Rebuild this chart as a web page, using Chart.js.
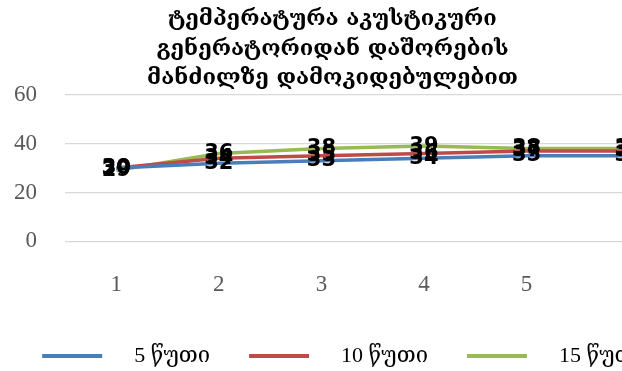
<!DOCTYPE html>
<html>
<head>
<meta charset="utf-8">
<script src="https://cdn.jsdelivr.net/npm/chart.js@4"></script>
<style>
  html, body { margin: 0; padding: 0; background: #fff; overflow: hidden; }
  #wrap { width: 665px; height: 371px; }
</style>
</head>
<body>
<div id="wrap"><canvas id="tempChart" width="665" height="371"></canvas></div>
<script>
// Distance categories along x axis
const categories = ["1", "2", "3", "4", "5", "6"];

// Series values (temperature)
const series5min = [30, 32, 33, 34, 35, 35];
const series10min = [30, 34, 35, 36, 37, 37];
const series15min = [29, 36, 38, 39, 38, 38];

const seriesNames = ["5 წუთი", "10 წუთი", "15 წუთი"];
const yTicks = [0, 20, 40, 60];

const titleLines = [
    "ტემპერატურა აკუსტიკური",
    "გენერატორიდან დაშორების",
    "მანძილზე დამოკიდებულებით"
];

// Legend marker: a short line with empty space around it
function makeMarker(color) {
    const c = document.createElement("canvas");
    c.width = 104;
    c.height = 4;
    const g = c.getContext("2d");
    g.fillStyle = color;
    g.fillRect(23, 0, 60, 4);
    return c;
}

function toPoints(values) {
    return values.map((v, i) => ({ x: i + 1, y: v }));
}

// Draw the value of every point on top of the lines
const valueLabels = {
    id: "valueLabels",
    afterDatasetsDraw(chart) {
        const ctx = chart.ctx;
        ctx.save();
        ctx.font = "bold 21px 'DejaVu Sans'";
        ctx.fillStyle = "#000";
        ctx.textAlign = "center";
        ctx.textBaseline = "middle";
        chart.data.datasets.forEach((ds, i) => {
            const meta = chart.getDatasetMeta(i);
            meta.data.forEach((pt, j) => {
                ctx.fillText(String(ds.data[j].y), pt.x, pt.y);
            });
        });
        ctx.restore();
    }
};

document.addEventListener("DOMContentLoaded", function () {
    const colors = ["#4a7ebb", "#be4b48", "#98b954"];
    const allSeries = [series5min, series10min, series15min];

    const datasets = allSeries.map((vals, i) => ({
        label: seriesNames[i],
        data: toPoints(vals),
        borderColor: colors[i],
        backgroundColor: colors[i],
        borderWidth: 3.5,
        pointRadius: 0,
        pointStyle: makeMarker(colors[i]),
        tension: 0
    }));

    new Chart(document.getElementById("tempChart"), {
        type: "line",
        data: { datasets: datasets },
        options: {
            responsive: false,
            animation: false,
            layout: { padding: { left: 0, right: 0, top: 0, bottom: -6 } },
            plugins: {
                title: {
                    display: true,
                    text: titleLines,
                    color: "#000",
                    font: { family: "'DejaVu Serif', 'DejaVu Sans'", size: 22, weight: "bold", lineHeight: 1.33 },
                    padding: { top: 5, bottom: 2 }
                },
                legend: {
                    position: "bottom",
                    labels: {
                        usePointStyle: true,
                        pointStyleWidth: 104,
                        boxHeight: 4,
                        padding: 16,
                        color: "#000",
                        font: { family: "'Liberation Serif', 'DejaVu Serif'", size: 22 }
                    }
                },
                tooltip: { enabled: false }
            },
            scales: {
                x: {
                    type: "linear",
                    min: 0.5,
                    max: 6.35,
                    grid: { display: false, drawTicks: false },
                    border: { display: false },
                    afterBuildTicks: axis => {
                        axis.ticks = categories.map((c, i) => ({ value: i + 1 }));
                    },
                    ticks: {
                        autoSkip: false,
                        maxRotation: 0,
                        padding: 30,
                        color: "#595959",
                        font: { family: "'Liberation Serif'", size: 23 },
                        callback: v => categories[v - 1]
                    }
                },
                y: {
                    min: 0,
                    max: 60,
                    grid: { color: "#d9d9d9", lineWidth: 1.2, drawTicks: false },
                    border: { display: false },
                    afterBuildTicks: axis => {
                        axis.ticks = yTicks.map(v => ({ value: v }));
                    },
                    afterFit: axis => {
                        axis.width = 65;
                    },
                    ticks: {
                        padding: 28,
                        color: "#595959",
                        font: { family: "'Liberation Serif'", size: 23 }
                    }
                }
            }
        },
        plugins: [valueLabels]
    });
});
</script>
</body>
</html>
